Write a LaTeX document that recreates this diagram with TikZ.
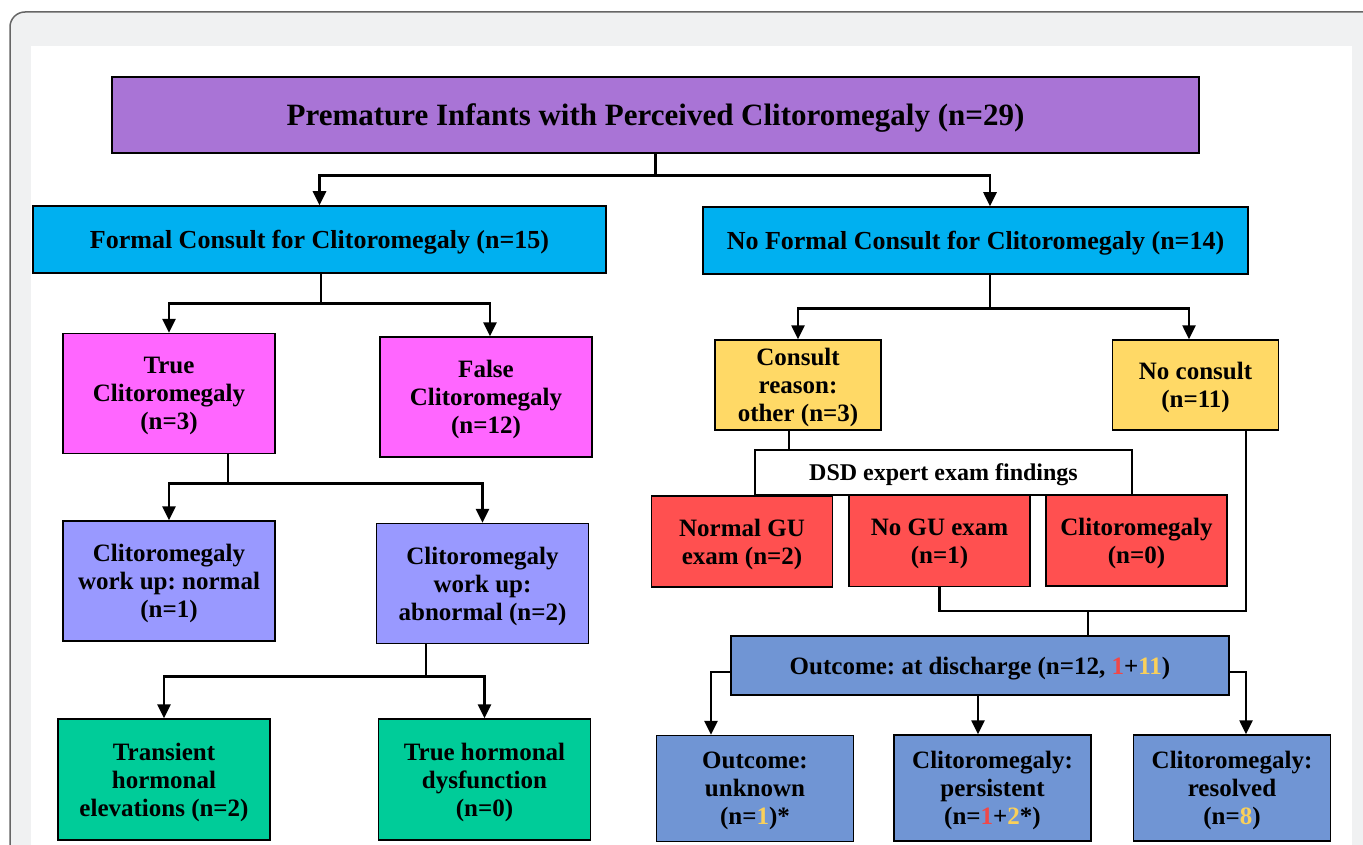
\documentclass[tikz,border=0pt]{standalone}
\usepackage{fontspec}
\setmainfont{Liberation Serif}
\usetikzlibrary{positioning,arrows.meta}
\definecolor{ttlc}{RGB}{169,116,214}
\definecolor{cnsc}{RGB}{0,176,240}
\definecolor{clic}{RGB}{255,102,255}
\definecolor{wupc}{RGB}{153,153,255}
\definecolor{hrmc}{RGB}{0,204,153}
\definecolor{ylwc}{RGB}{255,217,102}
\definecolor{redc}{RGB}{255,80,80}
\definecolor{outc}{RGB}{112,149,212}
\definecolor{nred}{RGB}{240,72,72}
\definecolor{nylw}{RGB}{250,208,90}
\definecolor{frmc}{RGB}{240,241,242}
\frenchspacing

\begin{document}
\begin{tikzpicture}[x=1pt,y=-1pt,font=\bfseries\fontsize{25}{28}\selectfont,>={Triangle[width=13pt,length=14pt]},
  bx/.style={draw,line width=1.5pt,align=center,inner sep=0pt,text depth=-3pt},
  cn/.style={line width=2.6pt},
  ttl/.style={bx,fill=ttlc,minimum width=1087pt,minimum height=76pt,font=\bfseries\fontsize{31}{34}\selectfont},
  cns/.style={bx,fill=cnsc,minimum height=67pt,font=\bfseries\fontsize{26}{28}\selectfont},
  cli/.style={bx,fill=clic,minimum width=212pt,minimum height=120pt},
  wup/.style={bx,fill=wupc,minimum width=212pt,minimum height=120pt},
  hrm/.style={bx,fill=hrmc,minimum width=212pt,minimum height=121pt},
  ylw/.style={bx,fill=ylwc,minimum width=166pt,minimum height=90pt},
  dsd/.style={bx,fill=redc,minimum width=181pt,minimum height=91pt},
  oc/.style={bx,fill=outc,minimum width=197pt,minimum height=106pt}]
  \useasboundingbox (0,0) rectangle (1363,845);
  % frame
  \draw[fill=frmc,draw=black!60,line width=1.5pt,rounded corners=15pt] (10,12) rectangle (1400,900);
  \fill[white] (31,46) rectangle (1352,880);
  % boxes
  \node[ttl] (title) at (655.5,115) {Premature Infants with Perceived Clitoromegaly (n=29)};
  \node[cns,minimum width=573pt] (formal) at (319.5,239.5) {Formal Consult for Clitoromegaly (n=15)};
  \node[cns,minimum width=545pt] (nofor) at (975.5,240.5) {No Formal Consult for Clitoromegaly (n=14)};
  \node[cli] (truec) at (169,393.5) {True\\Clitoromegaly\\(n=3)};
  \node[cli] (falsec) at (486,397) {False\\Clitoromegaly\\(n=12)};
  \node[wup] (wnorm) at (169,581) {Clitoromegaly\\work up: normal\\(n=1)};
  \node[wup] (wabn) at (482.5,583.5) {Clitoromegaly\\work up:\\abnormal (n=2)};
  \node[hrm] (trans) at (164,779.5) {Transient\\hormonal\\elevations (n=2)};
  \node[hrm] (trueh) at (484.5,779.5) {True hormonal\\dysfunction\\(n=0)};
  \node[ylw] (consr) at (798,385) {Consult\\reason:\\other (n=3)};
  \node[ylw] (nocons) at (1195.5,385) {No consult\\(n=11)};
  \node[bx,fill=white,minimum width=377pt,minimum height=45pt,font=\bfseries\fontsize{24}{26}\selectfont] (dsdx) at (943.5,472.5) {DSD expert exam findings};
  \node[dsd] (ngu) at (742,541.5) {Normal GU\\exam (n=2)};
  \node[dsd] (nogu) at (939.5,541) {No GU exam\\(n=1)};
  \node[dsd] (cli0) at (1136.5,540.5) {Clitoromegaly\\(n=0)};
  \node[bx,fill=outc,minimum width=498pt,minimum height=59pt] (outd) at (980,665.5)
    {Outcome: at discharge (n=12, {\color{nred}1}+{\color{nylw}11})};
  \node[oc] (unk) at (755,788.5) {Outcome:\\unknown\\(n={\color{nylw}1})*};
  \node[oc] (pers) at (992.5,788) {Clitoromegaly:\\persistent\\(n={\color{nred}1}+{\color{nylw}2}*)};
  \node[oc] (res) at (1232,788) {Clitoromegaly:\\resolved\\(n={\color{nylw}8})};
  \coordinate (mrg) at (1088,611);
  % connectors
  \draw[->,cn] (title.south) -- ++(0,22) -| (formal.north);
  \draw[->,cn] (title.south) -- ++(0,22) -| ([xshift=14.5pt]nofor.north);
  \draw[->,cn] ([xshift=1.5pt]formal.south) -- ++(0,30) -| (truec.north);
  \draw[->,cn] ([xshift=1.5pt]formal.south) -- ++(0,30) -| ([xshift=4pt]falsec.north);
  \draw[->,cn] ([xshift=59pt]truec.south) -- ++(0,29) -| (wnorm.north);
  \draw[->,cn] ([xshift=59pt]truec.south) -- ++(0,29) -| (wabn.north);
  \draw[->,cn] ([xshift=-56.5pt]wabn.south) -- ++(0,32) -| (trans.north);
  \draw[->,cn] ([xshift=-56.5pt]wabn.south) -- ++(0,32) -| (trueh.north);
  \draw[->,cn] ([xshift=14.5pt]nofor.south) -- ++(0,34) -| (consr.north);
  \draw[->,cn] ([xshift=14.5pt]nofor.south) -- ++(0,34) -| ([xshift=-6.5pt]nocons.north);
  \draw[cn] ([xshift=-9pt]consr.south) -- ([xshift=-9pt]consr.south |- dsdx.north);
  \draw[cn] (nogu.south) |- (mrg);
  \draw[cn] ([xshift=50.5pt]nocons.south) |- (mrg);
  \draw[cn] (mrg) -- (mrg |- outd.north);
  \draw[->,cn] ([yshift=-6.5pt]outd.west) -| ([xshift=-44pt]unk.north);
  \draw[->,cn] ([xshift=-2pt]outd.south) -- ([xshift=-2pt]outd.south |- pers.north);
  \draw[->,cn] ([yshift=-6.5pt]outd.east) -| ([xshift=14pt]res.north);
\end{tikzpicture}
\end{document}
